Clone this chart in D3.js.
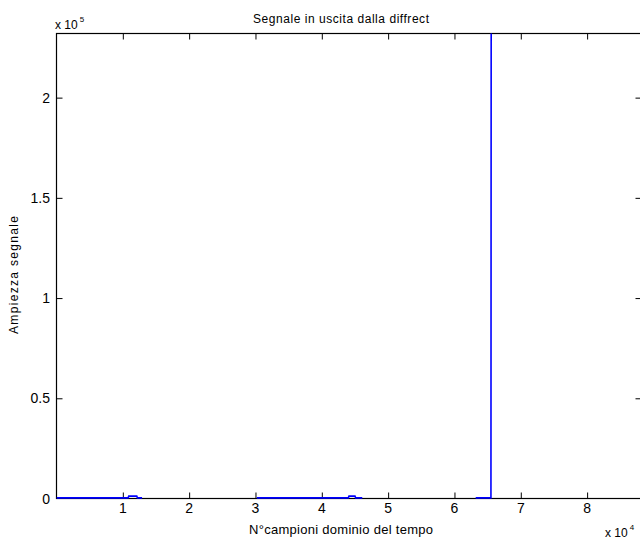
<!DOCTYPE html>
<html>
<head>
<meta charset="utf-8">
<script src="https://cdn.jsdelivr.net/npm/d3@7"></script>
<style>
  html, body { margin: 0; padding: 0; background: #fff; }
  svg { display: block; }
  text { font-family: "Liberation Sans Narrow", "Liberation Sans", Arial, sans-serif; fill: #000; }
</style>
</head>
<body>
<svg id="chart" width="640" height="539"></svg>
<script>
// Output of the diffrect stage: sample index vs amplitude, in three recorded stretches
const seg1X = [0, 10800, 10900, 12100, 12200, 12900];
const seg1Y = [300, 300, 1200, 1200, 300, 300];
const seg2X = [30200, 44000, 44100, 45000, 45100, 46100];
const seg2Y = [300, 300, 1200, 1200, 300, 300];
const seg3X = [63200, 65500, 65536];
const seg3Y = [300, 300, 232000];

const xTicks = [10000, 20000, 30000, 40000, 50000, 60000, 70000, 80000];
const xTickLabels = ["1", "2", "3", "4", "5", "6", "7", "8"];
const yTicks = [0, 50000, 100000, 150000, 200000];
const yTickLabels = ["0", "0.5", "1", "1.5", "2"];

const xDomain = [0, 88200];
const yDomain = [0, 232000];

const titleText = "Segnale in uscita dalla diffrect";
const xLabelText = "N°campioni dominio del tempo";
const yLabelText = "Ampiezza segnale";

const box = { left: 56.5, top: 33.5, right: 641.5, bottom: 498.5 };

const svg = d3.select("#chart");
const x = d3.scaleLinear().domain(xDomain).range([box.left, box.right]);
const y = d3.scaleLinear().domain(yDomain).range([box.bottom, box.top]);

// clip region for the data
svg.append("clipPath").attr("id", "plotClip")
  .append("rect")
  .attr("x", box.left).attr("y", box.top - 1)
  .attr("width", box.right - box.left).attr("height", box.bottom - box.top + 2);

const line = d3.line().x(d => x(d[0])).y(d => y(d[1]));
const segments = [
  d3.zip(seg1X, seg1Y),
  d3.zip(seg2X, seg2Y),
  d3.zip(seg3X, seg3Y)
];

// frame with inward ticks on all four sides
const tickLen = 6;
const axisG = svg.append("g");
axisG.append("g")
  .attr("transform", `translate(0,${box.bottom})`)
  .call(d3.axisBottom(x).tickValues(xTicks).tickSizeInner(-tickLen).tickSizeOuter(0).tickFormat(""));
axisG.append("g")
  .attr("transform", `translate(0,${box.top})`)
  .call(d3.axisTop(x).tickValues(xTicks).tickSizeInner(-tickLen).tickSizeOuter(0).tickFormat(""));
axisG.append("g")
  .attr("transform", `translate(${box.left},0)`)
  .call(d3.axisLeft(y).tickValues(yTicks.slice(1)).tickSizeInner(-tickLen).tickSizeOuter(0).tickFormat(""));
axisG.append("g")
  .attr("transform", `translate(${box.right},0)`)
  .call(d3.axisRight(y).tickValues(yTicks.slice(1)).tickSizeInner(-tickLen).tickSizeOuter(0).tickFormat(""));
axisG.selectAll(".domain").remove();
axisG.selectAll("line").attr("stroke", "#000").attr("stroke-width", 1);
axisG.append("rect")
  .attr("x", box.left).attr("y", box.top)
  .attr("width", box.right - box.left).attr("height", box.bottom - box.top)
  .attr("fill", "none").attr("stroke", "#000").attr("stroke-width", 1.2);

// data line
svg.append("g").attr("clip-path", "url(#plotClip)")
  .selectAll("path").data(segments).join("path")
  .attr("d", line)
  .attr("fill", "none")
  .attr("stroke", "#0000ff")
  .attr("stroke-width", 1.6);

// tick labels
svg.append("g").selectAll("text").data(xTicks).join("text")
  .attr("x", d => x(d)).attr("y", 513)
  .attr("text-anchor", "middle").attr("font-size", 14)
  .text((d, i) => xTickLabels[i]);

svg.append("g").selectAll("text").data(yTicks).join("text")
  .attr("x", 50).attr("y", d => y(d)).attr("dy", "0.36em")
  .attr("text-anchor", "end").attr("font-size", 14)
  .text((d, i) => yTickLabels[i]);

// exponent multipliers
function multiplier(px, py, exp) {
  const t = svg.append("text").attr("x", px).attr("y", py).attr("font-size", 12);
  t.append("tspan").text("x 10");
  t.append("tspan").attr("dx", 2).attr("dy", -7).attr("font-size", 8).text(exp);
}
multiplier(55, 28.5, "5");
multiplier(605, 536.5, "4");

// title and axis labels
svg.append("text")
  .attr("x", 341).attr("y", 22.5)
  .attr("text-anchor", "middle").attr("font-size", 12)
  .attr("textLength", 176).attr("lengthAdjust", "spacing")
  .text(titleText);

svg.append("text")
  .attr("x", 341).attr("y", 533.5)
  .attr("text-anchor", "middle").attr("font-size", 13)
  .attr("textLength", 184).attr("lengthAdjust", "spacing")
  .text(xLabelText);

svg.append("text")
  .attr("transform", "translate(17.5,275) rotate(-90)")
  .attr("text-anchor", "middle").attr("font-size", 12)
  .attr("textLength", 118).attr("lengthAdjust", "spacing")
  .text(yLabelText);
</script>
</body>
</html>
